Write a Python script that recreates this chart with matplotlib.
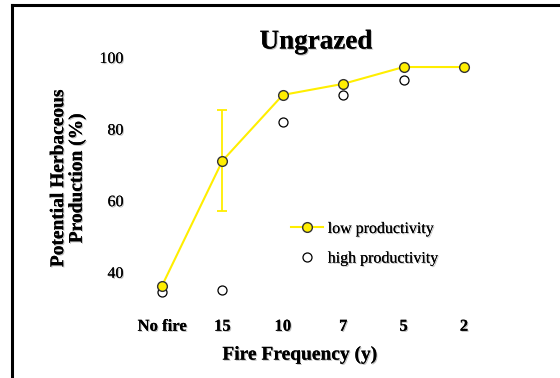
import matplotlib
matplotlib.use("Agg")
import matplotlib.pyplot as plt
import matplotlib.patheffects as pe
from matplotlib.lines import Line2D
import numpy as np

categories = ["No fire", "15", "10", "7", "5", "2"]
low_prod = [36.1, 71.0, 89.4, 92.5, 97.2, 97.2]
high_prod = [34.4, 35.0, 81.8, 89.4, 93.6, np.nan]
low_err_up = [0, 14.2, 0, 0, 0, 0]
low_err_down = [0, 14.0, 0, 0, 0, 0]
yticks = [40, 60, 80, 100]

YEL = "#FFEE00"
serif = ["Liberation Serif", "DejaVu Serif"]
shadow = [pe.withSimplePatchShadow(offset=(0.8, -0.8), shadow_rgbFace="0.5", alpha=0.5), pe.Normal()]

W, H = 560, 378
fig = plt.figure(figsize=(W / 100, H / 100), dpi=100)

# axes placed in pixel coords: x 0..5 -> 162..464 ; y 100 -> 57, 40 -> 272
xpx0, xstep = 162, 60.4
ypx_per = 3.58
xlim = (-0.5, 5.5)
ylim = (30, 104)
left_px = xpx0 + xlim[0] * xstep
right_px = xpx0 + xlim[1] * xstep
top_px = 57 - (ylim[1] - 100) * ypx_per
bot_px = 57 + (100 - ylim[0]) * ypx_per
ax = fig.add_axes([left_px / W, 1 - bot_px / H, (right_px - left_px) / W, (bot_px - top_px) / H])
ax.set_xlim(*xlim)
ax.set_ylim(*ylim)
for s in ax.spines.values():
    s.set_visible(False)

x = np.arange(len(categories))
ax.errorbar(x, low_prod, yerr=[low_err_down, low_err_up], fmt="none", ecolor=YEL,
            elinewidth=1.3, capsize=3.5, capthick=1.3, zorder=2)
ax.plot(x, high_prod, linestyle="none", marker="o", markersize=6.5,
        markerfacecolor="white", markeredgecolor="black", markeredgewidth=0.9, zorder=3)
ax.plot(x, low_prod, color=YEL, linewidth=1.5, marker="o", markersize=7,
        markerfacecolor=YEL, markeredgecolor="#333333", markeredgewidth=1.0, zorder=4)

ax.set_xticks(x)
ax.set_xticklabels(categories, fontfamily=serif, fontweight="bold", fontsize=12)
ax.set_yticks(yticks)
ax.set_yticklabels([str(v) for v in yticks], fontfamily=serif, fontsize=11.5)
ax.tick_params(axis="both", length=0)
ax.tick_params(axis="x", pad=8)
ax.tick_params(axis="y", pad=6)
for lab in ax.get_xticklabels() + ax.get_yticklabels():
    lab.set_path_effects(shadow)

fig.text(316 / W, 1 - 42 / H, "Ungrazed", ha="center", va="center", fontfamily=serif,
         fontweight="bold", fontsize=19.5, path_effects=shadow)
fig.text(300 / W, 1 - 355 / H, "Fire Frequency (y)", ha="center", va="center",
         fontfamily=serif, fontweight="bold", fontsize=14, path_effects=shadow)
fig.text(68 / W, 1 - 178 / H, "Potential Herbaceous\nProduction (%)", ha="center",
         va="center", rotation=90, multialignment="center", fontfamily=serif,
         fontweight="bold", fontsize=14, linespacing=1.1, path_effects=shadow)

handles = [
    Line2D([], [], color=YEL, linewidth=1.5, marker="o", markersize=7,
           markerfacecolor=YEL, markeredgecolor="#333333", markeredgewidth=1.0),
    Line2D([], [], linestyle="none", marker="o", markersize=6.5,
           markerfacecolor="white", markeredgecolor="black", markeredgewidth=0.9),
]
leg = fig.legend(handles, ["low productivity", "high productivity"], loc="upper left",
                 bbox_to_anchor=(291 / W, 1 - 221 / H), frameon=False,
                 prop={"family": serif, "size": 11.5}, handlelength=2.0,
                 handletextpad=0.3, labelspacing=0.85, borderpad=0, borderaxespad=0)
for t in leg.get_texts():
    t.set_path_effects(shadow)

# frame lines (left and top)
fig.add_artist(Line2D([12 / W, 12 / W], [0, 1 - 5 / H], color="black", linewidth=2.2,
                      transform=fig.transFigure, solid_capstyle="projecting"))
fig.add_artist(Line2D([12 / W, 1], [1 - 5 / H, 1 - 5 / H], color="black", linewidth=2.2,
                      transform=fig.transFigure, solid_capstyle="projecting"))

fig.savefig("out.png", dpi=100)
